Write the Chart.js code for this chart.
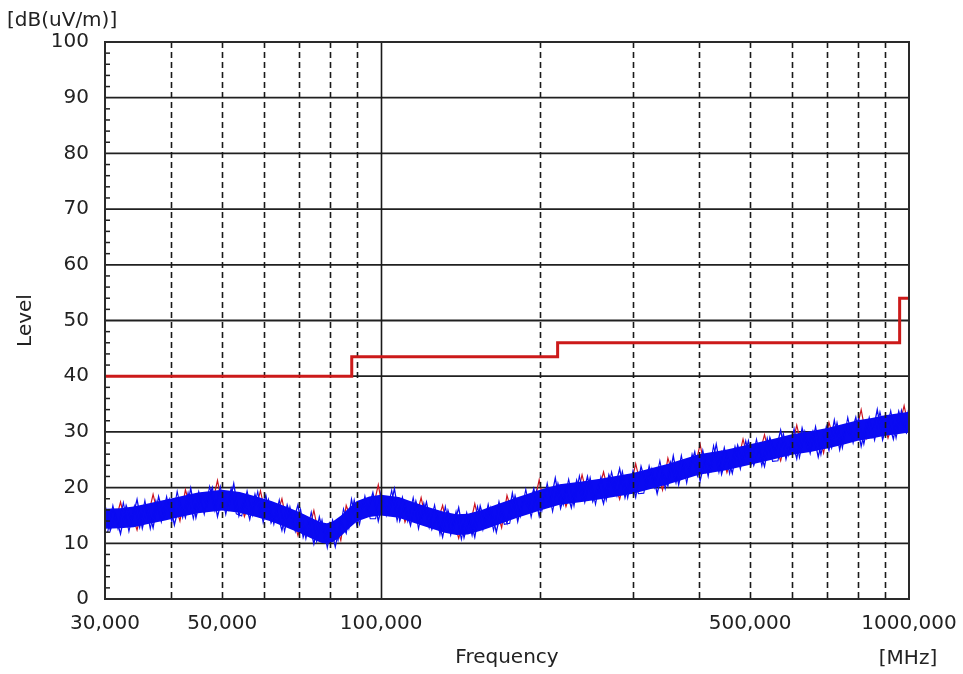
<!DOCTYPE html>
<html>
<head>
<meta charset="utf-8">
<script src="https://cdn.jsdelivr.net/npm/chart.js@4/dist/chart.umd.min.js"></script>
<style>
  html, body { margin: 0; padding: 0; background: #ffffff; }
  #wrap { width: 963px; height: 674px; }
</style>
</head>
<body>
<div id="wrap"><canvas id="c" width="963" height="674"></canvas></div>
<script>
// ---- Limit line (FCC Class B, 3 m) ----
const limitFreq  = [30, 88, 88, 216, 216, 960, 960, 1000];
const limitLevel = [40, 40, 43.5, 43.5, 46, 46, 54, 54];

// ---- Core of the measured sweep (dense region) ----
const bandFreq  = [30, 32, 34, 36, 39, 42, 45, 50, 54, 58, 62, 66, 70, 74, 77, 79, 81, 84, 87, 90,
                   95, 100, 108, 116, 124, 132, 139, 146, 155, 165, 180, 200, 218, 240, 260, 300, 350, 400, 450, 500,
                   550, 600, 650, 700, 750, 800, 850, 900, 950, 1000];
const bandUpper = [16.2, 16.3, 16.6, 17.1, 17.8, 18.5, 19.1, 19.6, 19.2, 18.4, 17.6, 16.6, 15.6, 14.5, 13.8, 13.6, 13.9, 15.0, 16.4, 17.6,
                   18.4, 18.7, 18.3, 17.3, 16.4, 15.6, 15.2, 15.3, 16.0, 16.9, 18.2, 19.6, 20.6, 21.1, 21.6, 22.6, 24.3, 26.0, 26.8, 27.8,
                   28.7, 29.6, 30.1, 30.7, 31.4, 32.1, 32.5, 33.0, 33.3, 33.6];
const bandLower = [12.6, 12.7, 12.9, 13.4, 14.1, 14.8, 15.4, 15.9, 15.5, 14.7, 13.9, 12.9, 11.9, 10.8, 10.1, 9.9, 10.2, 11.3, 12.7, 13.9,
                   14.7, 15.0, 14.6, 13.6, 12.7, 11.9, 11.5, 11.6, 12.3, 13.2, 14.5, 15.9, 16.9, 17.4, 17.9, 18.9, 20.6, 22.3, 23.1, 24.1,
                   25.0, 25.9, 26.4, 27.0, 27.7, 28.4, 28.8, 29.3, 29.6, 29.9];

// ---- Sweep samples (MHz) with vertical / horizontal readings ----
const sweepFreq = [30, 30.7, 31.4, 32.1, 32.9, 33.7, 34.5, 35.3, 36.1, 37, 37.9, 38.8, 39.7, 40.6, 41.6, 42.6, 43.6, 44.6, 45.7, 46.8,
  47.9, 49, 50.2, 51.4, 52.6, 53.8, 55.1, 56.4, 57.7, 59.1, 60.5, 61.9, 63.4, 64.9, 66.4, 68, 69.6, 71.2, 72.9, 74.6,
  76.4, 78.2, 80, 81.9, 83.9, 85.9, 87.9, 90, 92.1, 94.3, 96.5, 98.8, 101.1, 103.5, 106, 108.5, 111, 113.7, 116.4, 119.1,
  121.9, 124.8, 127.8, 130.8, 133.9, 137.1, 140.3, 143.6, 147, 150.5, 154.1, 157.7, 161.4, 165.3, 169.2, 173.2, 177.3, 181.5, 185.8, 190.2,
  194.7, 199.3, 204, 208.8, 213.8, 218.8, 224, 229.3, 234.7, 240.3, 246, 251.8, 257.8, 263.9, 270.1, 276.5, 283.1, 289.8, 296.6, 303.6,
  310.8, 318.2, 325.7, 333.4, 341.3, 349.4, 357.7, 366.2, 374.8, 383.7, 392.8, 402.1, 411.6, 421.4, 431.4, 441.6, 452, 462.7, 473.7, 484.9,
  496.4, 508.2, 520.2, 532.5, 545.1, 558, 571.3, 584.8, 598.7, 612.9, 627.4, 642.3, 657.5, 673.1, 689, 705.3, 722, 739.1, 756.6, 774.5,
  792.9, 811.7, 830.9, 850.6, 870.7, 891.3, 912.5, 934.1, 956.2, 978.9, 1000];

const levelBlue = [16.9, 12.3, 15.1, 11.7, 16.8, 13.9, 17.9, 12.7, 16.5, 12.8, 18.4, 14.8, 17.9, 13.3, 17.5, 14.6, 19.9, 14.6, 18.8, 16.8,
  20.0, 14.8, 18.9, 16.1, 20.7, 14.9, 18.0, 14.3, 18.8, 15.1, 18.6, 13.7, 16.0, 12.3, 16.9, 13.5, 16.9, 11.1, 14.2, 9.9,
  14.7, 10.7, 13.6, 9.4, 14.0, 11.8, 17.9, 13.2, 17.5, 15.8, 19.1, 14.0, 18.0, 15.2, 19.8, 14.0, 17.0, 13.2, 17.6, 13.9,
  17.4, 12.5, 14.9, 11.1, 15.9, 12.7, 16.4, 11.0, 14.8, 11.1, 16.7, 13.3, 16.4, 12.0, 16.3, 13.6, 19.0, 13.9, 18.2, 16.4,
  19.8, 14.9, 19.2, 16.8, 21.7, 16.3, 19.8, 16.4, 21.3, 18.0, 22.0, 17.5, 20.4, 17.1, 22.3, 19.5, 23.4, 18.2, 22.0, 18.3,
  23.8, 20.4, 23.4, 18.9, 23.1, 20.3, 25.7, 20.5, 24.8, 23.0, 26.4, 21.2, 25.5, 23.0, 27.8, 22.4, 25.9, 22.6, 27.6, 24.4,
  28.4, 24.0, 27.0, 23.8, 29.0, 26.2, 30.3, 25.1, 29.0, 25.2, 30.7, 27.1, 30.1, 25.5, 29.7, 26.7, 32.1, 26.8, 31.1, 29.2,
  32.6, 27.4, 31.6, 29.1, 34.0, 28.6, 32.1, 28.7, 33.7, 30.4, 34.3];

// in-between sweep points of the vertical trace
const sweepFreqMid = [30.35, 31.05, 31.75, 32.5, 33.3, 34.1, 34.9, 35.7, 36.55, 37.45, 38.35, 39.25, 40.15, 41.1, 42.1, 43.1, 44.1, 45.15, 46.25, 47.35,
  48.45, 49.6, 50.8, 52, 53.2, 54.45, 55.75, 57.05, 58.4, 59.8, 61.2, 62.65, 64.15, 65.65, 67.2, 68.8, 70.4, 72.05, 73.75, 75.5,
  77.3, 79.1, 80.95, 82.9, 84.9, 86.9, 88.95, 91.05, 93.2, 95.4, 97.65, 99.95, 102.3, 104.75, 107.25, 109.75, 112.35, 115.05, 117.75, 120.5,
  123.35, 126.3, 129.3, 132.35, 135.5, 138.7, 141.95, 145.3, 148.75, 152.3, 155.9, 159.55, 163.35, 167.25, 171.2, 175.25, 179.4, 183.65, 188, 192.45,
  197, 201.65, 206.4, 211.3, 216.3, 221.4, 226.65, 232, 237.5, 243.15, 248.9, 254.8, 260.85, 267, 273.3, 279.8, 286.45, 293.2, 300.1, 307.2,
  314.5, 321.95, 329.55, 337.35, 345.35, 353.55, 361.95, 370.5, 379.25, 388.25, 397.45, 406.85, 416.5, 426.4, 436.5, 446.8, 457.35, 468.2, 479.3, 490.65,
  502.3, 514.2, 526.35, 538.8, 551.55, 564.65, 578.05, 591.75, 605.8, 620.15, 634.85, 649.9, 665.3, 681.05, 697.15, 713.65, 730.55, 747.85, 765.55, 783.7,
  802.3, 821.3, 840.75, 860.65, 881, 901.9, 923.3, 945.15, 967.55, 989.45];

const levelBlueMid = [12.0, 16.8, 12.6, 17.3, 12.1, 16.7, 12.8, 17.7, 12.6, 17.7, 13.8, 18.4, 13.8, 19.3, 14.6, 19.1, 14.4, 19.3, 15.2, 20.2,
  15.8, 20.2, 15.2, 19.9, 15.3, 14.9, 19.4, 15.0, 19.3, 13.7, 17.9, 13.4, 17.8, 12.1, 16.6, 12.1, 16.1, 10.8, 15.6, 10.3,
  14.2, 9.2, 14.2, 10.5, 16.2, 12.6, 17.8, 13.4, 18.5, 14.4, 14.4, 19.2, 15.0, 19.5, 14.0, 18.3, 13.9, 18.2, 12.6, 17.2,
  12.8, 16.9, 11.6, 16.6, 11.5, 15.7, 10.7, 15.5, 11.4, 16.6, 12.4, 17.0, 12.3, 17.5, 13.4, 13.6, 18.6, 14.8, 19.7, 14.7,
  19.5, 15.8, 20.8, 15.7, 20.8, 16.9, 21.5, 16.7, 22.1, 17.3, 21.8, 17.0, 21.9, 17.7, 22.8, 18.5, 22.9, 18.1, 23.1, 18.9,
  19.0, 23.9, 20.0, 24.8, 19.8, 24.6, 20.8, 25.8, 20.8, 26.0, 22.1, 26.7, 22.0, 27.5, 22.7, 27.2, 22.5, 27.4, 23.3, 28.4,
  24.1, 28.7, 23.9, 28.9, 24.7, 24.8, 29.7, 25.8, 30.6, 25.4, 30.1, 26.1, 31.0, 25.9, 31.0, 27.1, 31.7, 27.1, 32.6, 28.0,
  32.5, 27.8, 32.6, 28.5, 33.6, 29.3, 33.8, 28.9, 33.9, 29.6];

const levelRed = [13.2, 15.4, 13.9, 17.4, 13.2, 15.4, 12.4, 16.4, 14.4, 18.8, 14.6, 16.4, 14.7, 17.6, 14.0, 19.6, 16.2, 18.6, 16.1, 18.4,
  17.1, 21.3, 16.2, 18.8, 16.9, 18.9, 14.8, 17.6, 15.7, 19.4, 14.9, 16.8, 14.8, 18.0, 13.3, 15.0, 11.4, 14.8, 12.1, 15.9,
  11.0, 12.3, 10.4, 13.6, 10.5, 16.8, 14.2, 17.2, 14.8, 17.4, 16.2, 20.5, 15.3, 17.9, 16.0, 18.0, 13.8, 16.5, 14.5, 18.2,
  13.7, 15.6, 13.7, 16.8, 12.3, 14.2, 10.9, 14.7, 12.7, 17.1, 13.0, 14.9, 13.2, 16.3, 12.8, 18.6, 15.3, 17.9, 15.5, 18.0,
  16.9, 21.4, 16.5, 19.5, 17.9, 20.3, 16.6, 19.7, 18.2, 22.3, 18.3, 20.6, 19.2, 22.8, 18.7, 21.0, 17.9, 21.9, 19.9, 24.3,
  20.1, 22.0, 20.2, 23.2, 19.6, 25.3, 22.0, 24.5, 22.1, 24.6, 23.5, 27.8, 22.8, 25.7, 24.0, 26.4, 22.7, 25.9, 24.5, 28.7,
  24.7, 27.1, 25.8, 29.5, 25.4, 27.7, 24.8, 28.8, 26.9, 31.2, 27.0, 28.7, 26.9, 29.8, 26.2, 31.7, 28.4, 30.8, 28.4, 30.8,
  29.7, 34.0, 28.9, 31.8, 30.2, 32.6, 28.9, 32.0, 30.6, 34.7, 30.6];

// ---- Axis text ----
const xTickFreqs  = [30, 50, 100, 500, 1000];
const xTickLabels = ['30,000', '50,000', '100,000', '500,000', '1000,000'];
const xGridDashed = [40, 50, 60, 70, 80, 90, 200, 300, 400, 500, 600, 700, 800, 900];
const xGridSolid  = [100];
const yGridLevels = [10, 20, 30, 40, 50, 60, 70, 80, 90];
const yMinorTicks = [2, 4, 6, 8, 12, 14, 16, 18, 22, 24, 26, 28, 32, 34, 36, 38, 42, 44, 46, 48,
                     52, 54, 56, 58, 62, 64, 66, 68, 72, 74, 76, 78, 82, 84, 86, 88, 92, 94, 96, 98];

const FONT = 'DejaVu Sans';
const TEXT = '#222222';
const BLUE = '#0a0af2';

const pts = (xs, ys) => xs.map((x, i) => ({ x: x, y: ys[i] }));

const LIMIT_INDEX = 5;

// Grid, frame and unit labels drawn with the chart's own scales
const framePlugin = {
  id: 'frame',
  beforeDatasetsDraw(chart) {
    const { ctx, chartArea: a, scales: { y } } = chart;
    ctx.save();
    ctx.strokeStyle = '#202020';
    ctx.lineWidth = 1.8;
    yGridLevels.forEach(v => {
      const py = y.getPixelForValue(v);
      ctx.beginPath(); ctx.moveTo(a.left, py); ctx.lineTo(a.right, py); ctx.stroke();
    });
    ctx.restore();
  },
  beforeDatasetDraw(chart, args) {
    if (args.index !== LIMIT_INDEX) return;
    const { ctx, chartArea: a, scales: { x } } = chart;
    ctx.save();
    ctx.strokeStyle = '#1a1a1a';
    ctx.lineWidth = 1.6;
    ctx.setLineDash([6, 4]);
    xGridDashed.forEach(f => {
      const px = Math.round(x.getPixelForValue(f)) + 0.5;
      ctx.beginPath(); ctx.moveTo(px, a.top); ctx.lineTo(px, a.bottom); ctx.stroke();
    });
    ctx.setLineDash([]);
    xGridSolid.forEach(f => {
      const px = Math.round(x.getPixelForValue(f)) + 0.5;
      ctx.beginPath(); ctx.moveTo(px, a.top); ctx.lineTo(px, a.bottom); ctx.stroke();
    });
    ctx.restore();
  },
  afterDatasetsDraw(chart) {
    const { ctx, chartArea: a, scales: { y } } = chart;
    ctx.save();
    ctx.strokeStyle = '#202020';
    ctx.lineWidth = 1.5;
    yMinorTicks.forEach(v => {
      const py = y.getPixelForValue(v);
      ctx.beginPath(); ctx.moveTo(a.left, py); ctx.lineTo(a.left + 5, py); ctx.stroke();
    });
    ctx.strokeStyle = '#2a2a2a';
    ctx.lineWidth = 2;
    ctx.strokeRect(a.left, a.top, a.right - a.left, a.bottom - a.top);
    ctx.restore();
  },
  afterDraw(chart) {
    const { ctx } = chart;
    ctx.save();
    ctx.fillStyle = TEXT;
    ctx.font = '20px "' + FONT + '"';
    ctx.textBaseline = 'middle';
    ctx.textAlign = 'left';
    ctx.fillText('[dB(uV/m)]', 7, 21);
    ctx.textAlign = 'center';
    ctx.fillText('[MHz]', 908, 659);
    ctx.restore();
  }
};

new Chart(document.getElementById('c'), {
  type: 'line',
  data: {
    datasets: [
      { // horizontal polarisation trace, beneath
        data: pts(sweepFreq, levelRed),
        borderColor: '#cc1420', borderWidth: 1.2, pointRadius: 0, order: 6
      },
      { // core lower edge
        data: pts(bandFreq, bandLower),
        borderWidth: 0, borderColor: 'rgba(0,0,0,0)', pointRadius: 0, order: 5
      },
      { // core upper edge, filled down to the lower edge
        data: pts(bandFreq, bandUpper),
        borderWidth: 0, borderColor: 'rgba(0,0,0,0)', pointRadius: 0,
        fill: '-1', backgroundColor: BLUE, order: 4
      },
      { // vertical polarisation trace
        data: pts(sweepFreq, levelBlue),
        borderColor: BLUE, borderWidth: 1.3, pointRadius: 0, order: 3
      },
      { // vertical polarisation trace, in-between points
        data: pts(sweepFreqMid, levelBlueMid),
        borderColor: BLUE, borderWidth: 1.1, pointRadius: 0, order: 2
      },
      { // limit
        data: pts(limitFreq, limitLevel),
        borderColor: '#cc1a1a', borderWidth: 3, pointRadius: 0, order: 1
      }
    ]
  },
  options: {
    responsive: false,
    animation: false,
    devicePixelRatio: 1,
    layout: { padding: { top: 42, right: 54, left: 0, bottom: 0 } },
    plugins: { legend: { display: false }, tooltip: { enabled: false } },
    elements: { line: { tension: 0 } },
    scales: {
      x: {
        type: 'logarithmic',
        min: 30, max: 1000,
        grid: { display: false, drawTicks: false },
        border: { display: false },
        afterBuildTicks: s => { s.ticks = xTickFreqs.map(v => ({ value: v })); },
        afterFit: s => { s.height = 75; s.paddingLeft = 0; s.paddingRight = 0; },
        ticks: {
          autoSkip: false, maxRotation: 0, minRotation: 0,
          padding: 13,
          color: TEXT,
          font: { family: FONT, size: 20 },
          callback: (v, i) => xTickLabels[i]
        },
        title: {
          display: true, text: 'Frequency', color: TEXT,
          font: { family: FONT, size: 20 },
          padding: { top: 0, bottom: 4 }
        }
      },
      y: {
        min: 0, max: 100,
        grid: { display: false, drawTicks: false },
        border: { display: false },
        afterFit: s => { s.width = 105; s.paddingTop = 0; s.paddingBottom = 0; },
        ticks: {
          stepSize: 10,
          padding: 16,
          color: TEXT,
          font: { family: FONT, size: 20 }
        },
        title: {
          display: true, text: 'Level', color: TEXT,
          font: { family: FONT, size: 20 },
          padding: { top: 14, bottom: 0 }
        }
      }
    }
  },
  plugins: [framePlugin]
});
</script>
</body>
</html>
